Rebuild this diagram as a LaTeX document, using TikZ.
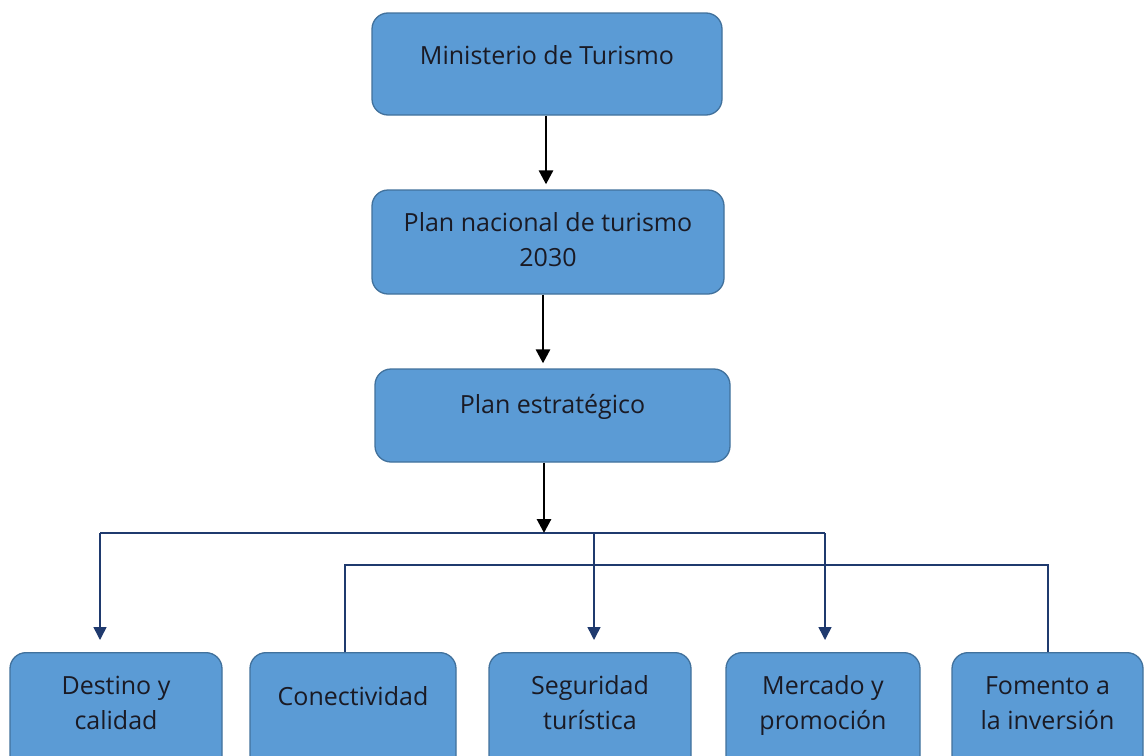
\documentclass[tikz,border=0pt]{standalone}
\usepackage{fontspec}
\setmainfont{Open Sans}
\usetikzlibrary{arrows.meta,calc}
\definecolor{boxfill}{HTML}{5B9BD5}
\definecolor{boxline}{HTML}{41719C}
\definecolor{navy}{HTML}{1F3A6E}
\definecolor{txt}{HTML}{1A1A24}
\tikzset{
  box/.style={draw=boxline, fill=boxfill, line width=1.3pt, rounded corners=16pt, inner sep=0pt},
  lbl/.style={text=txt, align=center, font=\fontsize{25}{35}\selectfont, inner sep=0pt},
  blk/.style={draw=black, line width=2.9pt, -{Triangle[length=14pt,width=14pt]}, shorten >=5pt},
  nav/.style={draw=navy, line width=1.5pt},
  navarr/.style={nav, -{Triangle[length=13pt,width=13pt]}, shorten >=12pt}
}
\begin{document}
\begin{tikzpicture}[x=1pt,y=-1pt]
\clip (0,0) rectangle (1145,755);
\fill[white] (0,0) rectangle (1145,755);
% top boxes
\node[box, minimum width=350pt, minimum height=102pt] (m) at (547,64) {};
\node[lbl] (mt) at (547,55) {Ministerio de Turismo};
\node[box, minimum width=352pt, minimum height=104pt] (pn) at (548,242) {};
\node[lbl] (pnt) at (548,240) {Plan nacional de turismo\\2030};
\node[box, minimum width=355pt, minimum height=93pt] (pe) at (552.5,415.5) {};
\node[lbl] (pet) at (552.5,407) {Plan estratégico};
% bottom boxes
\node[box, minimum width=212pt, minimum height=130pt, anchor=north] (d) at (116,652) {};
\node[lbl] (dt) at (116,703) {Destino y\\calidad};
\node[box, minimum width=206pt, minimum height=130pt, anchor=north] (c) at (353,652) {};
\node[lbl] (ct) at (353,696) {Conectividad};
\node[box, minimum width=202pt, minimum height=130pt, anchor=north] (s) at (590,652) {};
\node[lbl] (st) at (590,703) {Seguridad\\turística};
\node[box, minimum width=194pt, minimum height=130pt, anchor=north] (me) at (823,652) {};
\node[lbl] (met) at (823,705) {Mercado y\\promoción};
\node[box, minimum width=191pt, minimum height=130pt, anchor=north] (f) at (1047.5,652) {};
\node[lbl] (ft) at (1047.5,703) {Fomento a\\la inversión};
% junction coordinates
\coordinate (j) at (544,533);
\coordinate (a1) at (100,533);
\coordinate (a3) at (594,533);
\coordinate (a4) at (825,533);
\coordinate (b2) at (345,565);
\coordinate (b5) at (1048,565);
% navy bus lines
\draw[nav] (a1) -- (a4);
\draw[navarr] (a1) -- (a1 |- d.north);
\draw[navarr] (a3) -- (a3 |- s.north);
\draw[navarr] (a4) -- (a4 |- me.north);
\draw[nav] (b2 |- c.north) -- (b2) -- (b5) -- (b5 |- f.north);
% black arrows
\draw[blk] (546,0 |- m.south) -- (546,0 |- pn.north);
\draw[blk] (543,0 |- pn.south) -- (543,0 |- pe.north);
\draw[blk, shorten >=0pt] (j |- pe.south) -- (j);
\end{tikzpicture}
\end{document}
